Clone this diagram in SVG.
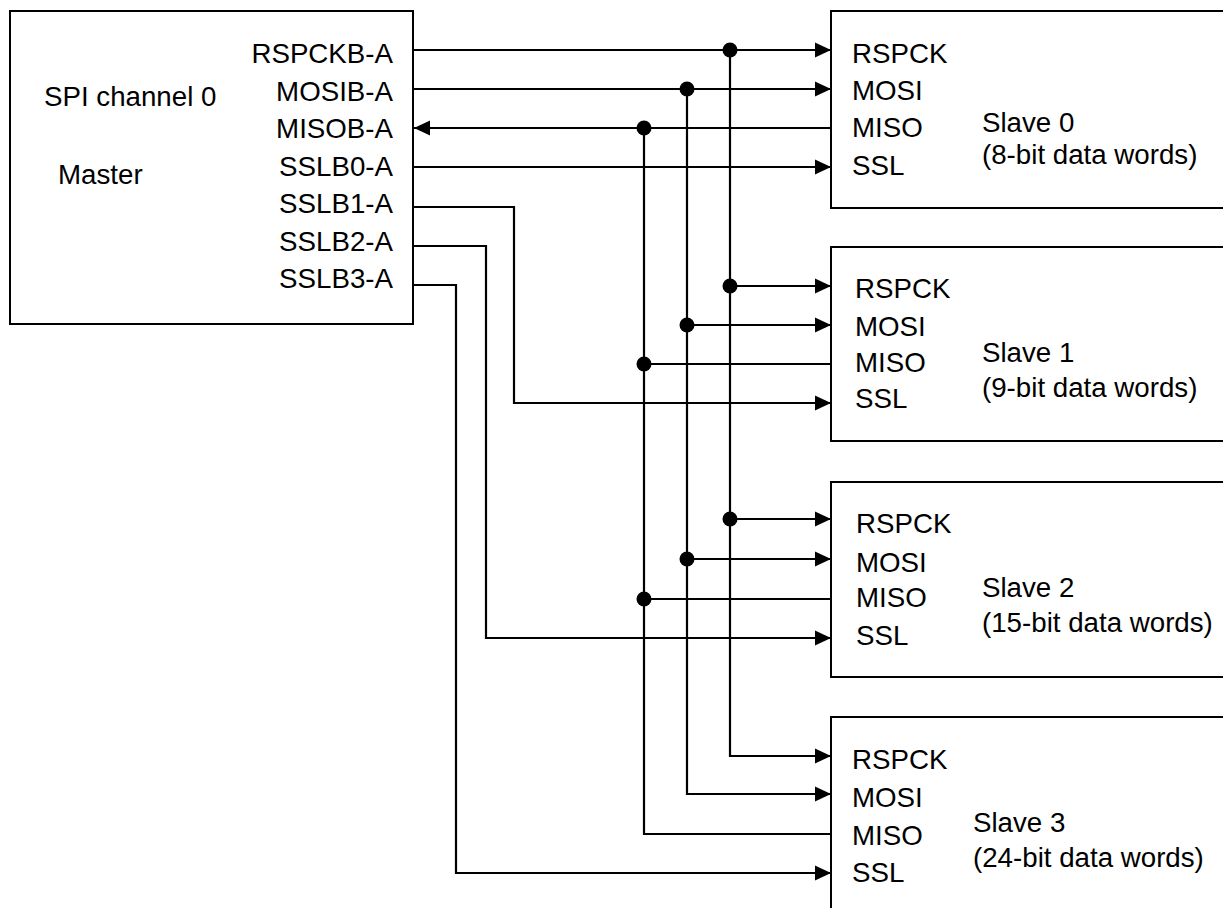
<svg xmlns="http://www.w3.org/2000/svg" width="1223" height="908" viewBox="0 0 1223 908">
<style>
.box{fill:#fff;stroke:#000;stroke-width:2}
.t{font-family:"Liberation Sans",Arial,sans-serif;font-size:27.7px;fill:#000}
.r{text-anchor:end}
.w{fill:none;stroke:#000;stroke-width:2.2}
.dot{fill:#000}
</style>
<defs>
<marker id="ah" markerUnits="userSpaceOnUse" markerWidth="16" markerHeight="16" viewBox="0 0 16 16" refX="16" refY="8" orient="auto">
<path d="M0,0.5 L16,8 L0,15.5 Z" fill="#000"/>
</marker>
</defs>
<rect width="1223" height="908" fill="#fff"/>
<g id="master">
<rect class="box" x="10" y="11" width="403" height="313"/>
<text class="t" x="44" y="106">SPI channel 0</text>
<text class="t" x="58" y="184">Master</text>
<text class="t r" x="393" y="63">RSPCKB-A</text>
<text class="t r" x="393" y="100.5">MOSIB-A</text>
<text class="t r" x="393" y="138">MISOB-A</text>
<text class="t r" x="393" y="176">SSLB0-A</text>
<text class="t r" x="393" y="213">SSLB1-A</text>
<text class="t r" x="393" y="251">SSLB2-A</text>
<text class="t r" x="393" y="288">SSLB3-A</text>
</g>
<g id="slave0">
<rect class="box" x="831" y="11" width="400" height="197"/>
<text class="t" x="852" y="63">RSPCK</text>
<text class="t" x="852" y="100">MOSI</text>
<text class="t" x="852" y="137">MISO</text>
<text class="t" x="852" y="175">SSL</text>
<text class="t" x="982" y="132">Slave 0</text>
<text class="t" x="982" y="164">(8-bit data words)</text>
</g>
<g id="slave1">
<rect class="box" x="831" y="247" width="400" height="194"/>
<text class="t" x="855" y="298">RSPCK</text>
<text class="t" x="855" y="336">MOSI</text>
<text class="t" x="855" y="372">MISO</text>
<text class="t" x="855" y="408">SSL</text>
<text class="t" x="982" y="362">Slave 1</text>
<text class="t" x="982" y="397">(9-bit data words)</text>
</g>
<g id="slave2">
<rect class="box" x="831" y="482" width="400" height="195"/>
<text class="t" x="856" y="533">RSPCK</text>
<text class="t" x="856" y="572">MOSI</text>
<text class="t" x="856" y="607">MISO</text>
<text class="t" x="856" y="645">SSL</text>
<text class="t" x="982" y="597">Slave 2</text>
<text class="t" x="982" y="632">(15-bit data words)</text>
</g>
<g id="slave3">
<rect class="box" x="831" y="717" width="400" height="200"/>
<text class="t" x="852" y="769">RSPCK</text>
<text class="t" x="852" y="807">MOSI</text>
<text class="t" x="852" y="845">MISO</text>
<text class="t" x="852" y="882">SSL</text>
<text class="t" x="973" y="832">Slave 3</text>
<text class="t" x="973" y="867">(24-bit data words)</text>
</g>
<g id="connectors">
<path class="w" d="M413,50 H831" marker-end="url(#ah)"/>
<path class="w" d="M413,89 H831" marker-end="url(#ah)"/>
<path class="w" d="M831,128 H414" marker-end="url(#ah)"/>
<path class="w" d="M413,167 H831" marker-end="url(#ah)"/>
<path class="w" d="M730,50 V756 H831" marker-end="url(#ah)"/>
<path class="w" d="M687,89 V794 H831" marker-end="url(#ah)"/>
<path class="w" d="M644,128 V834 H831"/>
<path class="w" d="M730,286 H831" marker-end="url(#ah)"/>
<path class="w" d="M687,325 H831" marker-end="url(#ah)"/>
<path class="w" d="M644,364 H831"/>
<path class="w" d="M730,519 H831" marker-end="url(#ah)"/>
<path class="w" d="M687,559 H831" marker-end="url(#ah)"/>
<path class="w" d="M644,599 H831"/>
<path class="w" d="M413,207 H514 V403 H831" marker-end="url(#ah)"/>
<path class="w" d="M413,246 H486 V638 H831" marker-end="url(#ah)"/>
<path class="w" d="M413,285 H456 V873 H831" marker-end="url(#ah)"/>
<circle class="dot" cx="730" cy="50" r="7.5"/>
<circle class="dot" cx="687" cy="89" r="7.5"/>
<circle class="dot" cx="644" cy="128" r="7.5"/>
<circle class="dot" cx="730" cy="286" r="7.5"/>
<circle class="dot" cx="687" cy="325" r="7.5"/>
<circle class="dot" cx="644" cy="364" r="7.5"/>
<circle class="dot" cx="730" cy="519" r="7.5"/>
<circle class="dot" cx="687" cy="559" r="7.5"/>
<circle class="dot" cx="644" cy="599" r="7.5"/>
</g>
</svg>
